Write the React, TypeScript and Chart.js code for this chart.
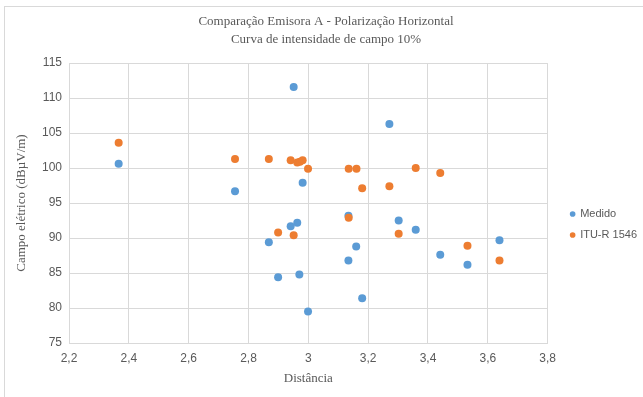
import React, { useEffect, useRef } from "react";
import { Chart, registerables } from "chart.js";

Chart.register(...registerables);

const distances = [2.366, 2.755, 2.868, 2.899, 2.941, 2.951, 2.963, 2.970, 2.981, 2.999, 3.134, 3.134, 3.160, 3.180, 3.271, 3.302, 3.359, 3.441, 3.532, 3.639];
const medido = [100.6, 96.7, 89.4, 84.4, 91.7, 111.6, 92.2, 84.8, 97.9, 79.5, 93.2, 86.8, 88.8, 81.4, 106.3, 92.5, 91.2, 87.6, 86.2, 89.7];
const ituDistances = [2.366, 2.755, 2.868, 2.899, 2.941, 2.951, 2.963, 2.972, 2.981, 2.999, 3.135, 3.135, 3.161, 3.180, 3.271, 3.302, 3.359, 3.441, 3.532, 3.639];
const itu = [103.6, 101.3, 101.3, 90.8, 101.1, 90.4, 100.8, 100.9, 101.1, 99.9, 99.9, 92.9, 99.9, 97.1, 97.4, 90.6, 100.0, 99.3, 88.9, 86.8];

const seriesNames = ["Medido", "ITU-R 1546"];
const titleLines = ["Comparação Emisora A - Polarização Horizontal", "Curva de intensidade de campo 10%"];
const xTitle = "Distância";
const yTitle = "Campo elétrico (dBµV/m)";

const GRID = "#d9d9d9";
const TEXT = "#595959";
const SERIF = "'Liberation Serif', 'Times New Roman', serif";
const SANS = "'Liberation Sans', Arial, sans-serif";

export default function App() {
  const ref = useRef<HTMLCanvasElement | null>(null);

  useEffect(() => {
    if (!ref.current) return;
    const chart = new Chart(ref.current, {
      type: "scatter",
      data: {
        datasets: [
          {
            label: seriesNames[0],
            data: distances.map((x, i) => ({ x, y: medido[i] })),
            backgroundColor: "#5B9BD5",
            borderColor: "#5B9BD5",
            pointRadius: 4,
            borderWidth: 0,
            order: 1,
          },
          {
            label: seriesNames[1],
            data: ituDistances.map((x, i) => ({ x, y: itu[i] })),
            backgroundColor: "#ED7D31",
            borderColor: "#ED7D31",
            pointRadius: 4,
            borderWidth: 0,
            order: 0,
          },
        ],
      },
      options: {
        animation: false,
        responsive: false,
        maintainAspectRatio: false,
        layout: { padding: { left: 0, right: 2, top: 0, bottom: 11 } },
        plugins: {
          tooltip: { enabled: false },
          title: {
            display: true,
            text: titleLines,
            color: TEXT,
            font: { family: SERIF, size: 13, weight: "normal", lineHeight: 1.35 },
            padding: { top: 6, bottom: 15 },
          },
          legend: {
            position: "right",
            title: {
              display: true,
              text: "",
              font: { family: SANS, size: 10, lineHeight: 1 },
              padding: { top: 46, bottom: 0 },
            },
            labels: {
              usePointStyle: true,
              pointStyle: "circle",
              boxWidth: 4,
              boxHeight: 4,
              padding: 10,
              color: TEXT,
              font: { family: SANS, size: 11 },
              sort: (a: any, b: any) => a.datasetIndex - b.datasetIndex,
            },
          },
        },
        scales: {
          x: {
            type: "linear",
            min: 2.2,
            max: 3.8,
            ticks: {
              stepSize: 0.2,
              color: TEXT,
              padding: 8,
              font: { family: SANS, size: 12 },
              callback: (v: any) => String(Number(Number(v).toFixed(1))).replace(".", ","),
            },
            grid: { color: GRID, drawTicks: false },
            border: { color: GRID },
            title: {
              display: true,
              text: xTitle,
              color: TEXT,
              font: { family: SERIF, size: 13, lineHeight: 1.2 },
              padding: 0,
            },
            afterFit: (s: any) => {
              s.height = 43;
            },
          },
          y: {
            type: "linear",
            min: 75,
            max: 115,
            ticks: {
              stepSize: 5,
              color: TEXT,
              padding: 7,
              font: { family: SANS, size: 12 },
            },
            grid: { color: GRID, drawTicks: false },
            border: { color: GRID },
            title: {
              display: true,
              text: yTitle,
              color: TEXT,
              font: { family: SERIF, size: 13, lineHeight: 1.2 },
              padding: { top: 9, bottom: 0 },
            },
            afterFit: (s: any) => {
              s.width = 64;
            },
          },
          spacer: {
            type: "linear",
            position: "right",
            display: true,
            ticks: { display: false },
            grid: { display: false, drawTicks: false },
            border: { display: false },
            afterFit: (s: any) => {
              s.width = 13;
            },
          },
        },
      },
    });
    return () => chart.destroy();
  }, []);

  return (
    <div style={{ position: "fixed", left: 0, top: 0, width: 643, height: 397, overflow: "hidden", background: "#fff" }}>
      <div
        style={{
          position: "absolute",
          left: 4,
          top: 6,
          width: 644,
          height: 400,
          border: "1px solid #d9d9d9",
          background: "#fff",
        }}
      >
        <canvas ref={ref} width={644} height={390} style={{ display: "block", width: 644, height: 390 }} />
      </div>
    </div>
  );
}
